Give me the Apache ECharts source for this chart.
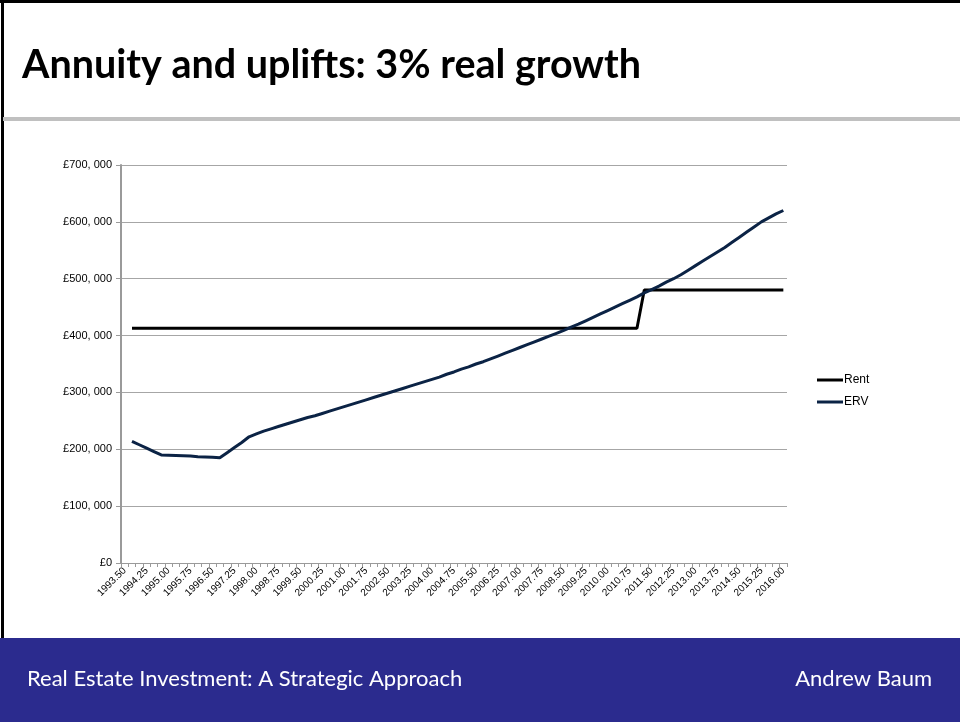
<!DOCTYPE html>
<html>
<head>
<meta charset="utf-8">
<script src="https://cdn.jsdelivr.net/npm/echarts@6/dist/echarts.min.js"></script>
<style>
html,body{margin:0;padding:0;background:#fff;}
#c{width:960px;height:722px;}
</style>
</head>
<body>
<div id="c"></div>
<script>
const categories = [
"1993.50","1993.75","1994.00","1994.25","1994.50","1994.75","1995.00","1995.25","1995.50","1995.75",
"1996.00","1996.25","1996.50","1996.75","1997.00","1997.25","1997.50","1997.75","1998.00","1998.25",
"1998.50","1998.75","1999.00","1999.25","1999.50","1999.75","2000.00","2000.25","2000.50","2000.75",
"2001.00","2001.25","2001.50","2001.75","2002.00","2002.25","2002.50","2002.75","2003.00","2003.25",
"2003.50","2003.75","2004.00","2004.25","2004.50","2004.75","2005.00","2005.25","2005.50","2005.75",
"2006.00","2006.25","2006.50","2006.75","2007.00","2007.25","2007.50","2007.75","2008.00","2008.25",
"2008.50","2008.75","2009.00","2009.25","2009.50","2009.75","2010.00","2010.25","2010.50","2010.75",
"2011.00","2011.25","2011.50","2011.75","2012.00","2012.25","2012.50","2012.75","2013.00","2013.25",
"2013.50","2013.75","2014.00","2014.25","2014.50","2014.75","2015.00","2015.25","2015.50","2015.75",
"2016.00"
];

// values in £ thousands
const rent = [
null,413,413,413,413,413,413,413,413,413,
413,413,413,413,413,413,413,413,413,413,
413,413,413,413,413,413,413,413,413,413,
413,413,413,413,413,413,413,413,413,413,
413,413,413,413,413,413,413,413,413,413,
413,413,413,413,413,413,413,413,413,413,
413,413,413,413,413,413,413,413,413,413,
413,480,480,480,480,480,480,480,480,480,
480,480,480,480,480,480,480,480,480,480,
480
];

const erv = [
null,214,208,202,196,190,189.5,189,188.5,188,
187,186.5,186,185,194,203,212,222,227,232,
236,240,244,248,252,256,259,263,267,271,
275,279,283,287,291,295,299,303,307,311,
315,319,323,327,332,336,341,345,350,354,
359,364,369,374,379,384,389,394,399,404,
409,415,420,426,432,438,444,450,456,462,
468,475,481,487,494,500,507,515,523,531,
539,547,555,564,573,582,591,600,607,614,
620
];

const yTicks = [0,100,200,300,400,500,600,700];
const yTickLabels = ["£0","£100, 000","£200, 000","£300, 000","£400, 000","£500, 000","£600, 000","£700, 000"];

const chart = echarts.init(document.getElementById('c'), null, {renderer:'canvas'});
chart.setOption({
  backgroundColor:'#ffffff',
  animation:false,
  title:{
    text:'Annuity and uplifts: 3% real growth',
    left:17, top:40,
    textStyle:{fontFamily:'Lato', fontWeight:'bold', fontSize:39.5, color:'#000'}
  },
  graphic:[
    {type:'rect', shape:{x:0,y:0,width:960,height:3}, style:{fill:'#000'}},
    {type:'rect', shape:{x:1,y:0,width:3,height:640}, style:{fill:'#000'}},
    {type:'rect', shape:{x:3,y:117,width:957,height:4}, style:{fill:'#c0c0c0'}},
    {type:'rect', shape:{x:0,y:638,width:960,height:84}, style:{fill:'#2b2b8e'}},
    {type:'text', left:27, top:668, style:{text:'Real Estate Investment: A Strategic Approach', fill:'#fff', font:'22px Lato'}},
    {type:'text', right:28, top:668, style:{text:'Andrew Baum', fill:'#fff', font:'22px Lato'}}
  ],
  legend:{
    orient:'vertical', left:812, top:369, itemGap:10,
    itemWidth:26, itemHeight:3, icon:'rect',
    textStyle:{fontFamily:'Liberation Sans', fontSize:12, color:'#000', padding:[0,0,0,-4]},
    data:['Rent','ERV']
  },
  grid:{left:121, top:165, width:666, height:398, containLabel:false},
  xAxis:{
    type:'category', data:categories, boundaryGap:true,
    axisLine:{lineStyle:{color:'#9a9a9a', width:1}},
    axisTick:{show:true, interval:0, length:4, lineStyle:{color:'#9a9a9a'}},
    axisLabel:{interval:2, rotate:45, fontFamily:'Liberation Sans', fontSize:10, color:'#000', margin:6},
    splitLine:{show:false}
  },
  yAxis:{
    type:'value', min:0, max:700, interval:100,
    axisLine:{show:true, lineStyle:{color:'#9a9a9a', width:2}},
    axisTick:{show:true, length:5, lineStyle:{color:'#9a9a9a'}},
    axisLabel:{fontFamily:'Liberation Sans', fontSize:11, color:'#000', margin:9,
      formatter:function(v){ const i = yTicks.indexOf(v); return i>=0 ? yTickLabels[i] : ''; }},
    splitLine:{show:true, lineStyle:{color:'#a6a6a6', width:1}}
  },
  series:[
    {name:'Rent', type:'line', data:rent, showSymbol:false, symbol:'none',
     lineStyle:{color:'#000000', width:3}, itemStyle:{color:'#000000'}},
    {name:'ERV', type:'line', data:erv, showSymbol:false, symbol:'none',
     lineStyle:{color:'#0b2345', width:3}, itemStyle:{color:'#0b2345'}}
  ]
});
</script>
</body>
</html>
